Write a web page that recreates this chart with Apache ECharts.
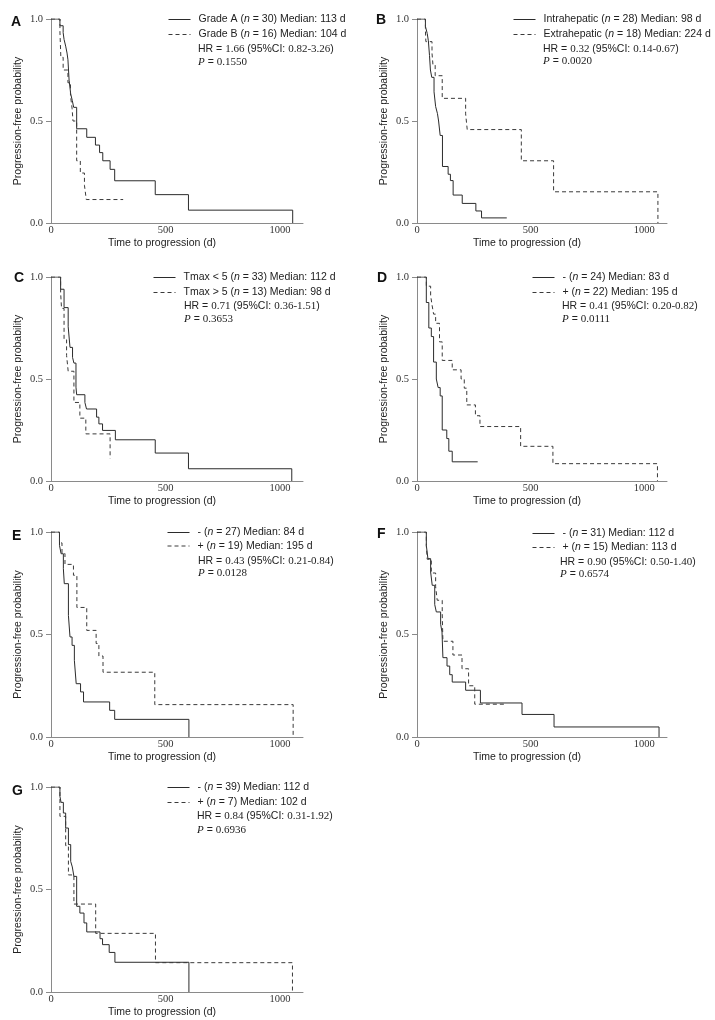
<!DOCTYPE html>
<html>
<head>
<meta charset="utf-8">
<script src="https://cdn.jsdelivr.net/npm/echarts@6/dist/echarts.min.js"></script>
<style>
html,body{margin:0;padding:0;background:#fff;}
#c{width:715px;height:1020px;}
</style>
</head>
<body>
<div id="c"></div>
<script>
// ---------------- DATA (Kaplan-Meier step points: [day, survival]) ----------------
const xTicks = [0, 500, 1000];
const yTicks = [0.0, 0.5, 1.0];
const xLabel = 'Time to progression (d)';
const yLabel = 'Progression-free probability';
const panelLetters = ['A', 'B', 'C', 'D', 'E', 'F', 'G'];

const A_solid = [[0,1],[39,0.967],[53,0.933],[57,0.9],[64,0.867],[70,0.833],[74,0.8],[79,0.7],[86,0.633],[93,0.6],[99,0.567],[112,0.462],[156,0.42],[194,0.382],[212,0.345],[226,0.305],[258,0.263],[278,0.207],[455,0.139],[600,0.063],[1055,0]];
const A_dashed = [[0,1],[39,0.9375],[43,0.8125],[53,0.75],[74,0.6875],[85,0.625],[92,0.5625],[96,0.5],[112,0.305],[128,0.245],[146,0.185],[154,0.115],[315,0.115]];
const A_names = ['Grade A (n = 30) Median: 113 d', 'Grade B (n = 16) Median: 104 d'];
const A_stats = ['1.66', '0.82-3.26', '0.1550'];

const B_solid = [[0,1],[37,0.964],[45,0.929],[50,0.893],[55,0.821],[59,0.75],[65,0.714],[75,0.643],[82,0.571],[90,0.536],[95,0.5],[102,0.429],[112,0.277],[137,0.239],[147,0.208],[159,0.137],[199,0.096],[259,0.059],[284,0.025],[395,0.025]];
const B_dashed = [[0,1],[37,0.944],[39,0.889],[66,0.833],[70,0.778],[80,0.722],[111,0.611],[214,0.535],[221,0.458],[459,0.305],[601,0.153],[1060,0]];
const B_names = ['Intrahepatic (n = 28) Median: 98 d', 'Extrahepatic (n = 18) Median: 224 d'];
const B_stats = ['0.32', '0.14-0.67', '0.0020'];

const C_solid = [[0,1],[42,0.94],[57,0.85],[75,0.756],[83,0.655],[94,0.606],[100,0.578],[109,0.46],[112,0.423],[148,0.385],[155,0.353],[199,0.313],[209,0.28],[225,0.248],[281,0.202],[455,0.137],[600,0.06],[1051,0]];
const C_dashed = [[0,1],[42,0.923],[46,0.846],[57,0.692],[68,0.615],[75,0.538],[100,0.385],[126,0.308],[152,0.231],[258,0.11]];
const C_names = ['Tmax < 5 (n = 33) Median: 112 d', 'Tmax > 5 (n = 13) Median: 98 d'];
const C_stats = ['0.71', '0.36-1.51', '0.3653'];

const D_solid = [[0,1],[41,0.875],[52,0.75],[63,0.708],[73,0.583],[85,0.5],[93,0.458],[102,0.417],[111,0.25],[131,0.208],[140,0.146],[155,0.094],[267,0.094]];
const D_dashed = [[0,1],[41,0.955],[60,0.909],[66,0.864],[73,0.818],[82,0.773],[99,0.682],[111,0.591],[155,0.545],[194,0.5],[208,0.455],[219,0.373],[257,0.32],[277,0.267],[456,0.17],[598,0.085],[1058,0]];
const D_names = ['- (n = 24) Median: 83 d', '+ (n = 22) Median: 195 d'];
const D_stats = ['0.41', '0.20-0.82', '0.0111'];

const E_solid = [[0,1],[37,0.935],[44,0.894],[54,0.821],[58,0.748],[76,0.593],[83,0.488],[92,0.447],[102,0.374],[110,0.26],[129,0.22],[142,0.171],[256,0.13],[278,0.086],[602,0]];
const E_dashed = [[0,1],[37,0.947],[48,0.895],[61,0.842],[98,0.789],[113,0.632],[156,0.52],[197,0.456],[209,0.395],[227,0.316],[453,0.158],[1057,0]];
const E_names = ['- (n = 27) Median: 84 d', '+ (n = 19) Median: 195 d'];
const E_stats = ['0.43', '0.21-0.84', '0.0128'];

const F_solid = [[0,1],[41,0.935],[48,0.87],[60,0.805],[67,0.74],[78,0.646],[85,0.61],[104,0.55],[110,0.512],[114,0.387],[132,0.346],[144,0.304],[155,0.268],[214,0.228],[279,0.166],[462,0.11],[603,0.049],[1065,0]];
const F_dashed = [[0,1],[41,0.933],[45,0.867],[63,0.8],[82,0.733],[89,0.667],[111,0.6],[114,0.467],[158,0.4],[198,0.333],[227,0.25],[254,0.16],[393,0.16]];
const F_names = ['- (n = 31) Median: 112 d', '+ (n = 15) Median: 113 d'];
const F_stats = ['0.90', '0.50-1.40', '0.6574'];

const G_solid = [[0,1],[39,0.954],[44,0.925],[54,0.873],[64,0.8],[76,0.719],[86,0.637],[93,0.61],[100,0.564],[112,0.418],[126,0.385],[144,0.337],[156,0.293],[214,0.26],[225,0.231],[254,0.193],[279,0.145],[602,0]];
const G_dashed = [[0,1],[39,0.857],[64,0.714],[76,0.571],[100,0.429],[195,0.286],[456,0.143],[1054,0]];
const G_names = ['- (n = 39) Median: 112 d', '+ (n = 7) Median: 102 d'];
const G_stats = ['0.84', '0.31-1.92', '0.6936'];

const panelData = [
  [A_solid, A_dashed, A_names, A_stats],
  [B_solid, B_dashed, B_names, B_stats],
  [C_solid, C_dashed, C_names, C_stats],
  [D_solid, D_dashed, D_names, D_stats],
  [E_solid, E_dashed, E_names, E_stats],
  [F_solid, F_dashed, F_names, F_stats],
  [G_solid, G_dashed, G_names, G_stats]
];

// ---------------- LAYOUT ----------------
// grid: left, top, width, height ; legend: iconX, textX, row1Y, rowStep, hrY, pY ; letter: x, y
const layout = [
  {g:[51,19,252,204],  lg:[168,198,19,14,50,62.5],  lt:[11,22]},
  {g:[417,19,250,204], lg:[513,543,19,14,50,62],    lt:[376,20]},
  {g:[51,277,252,204], lg:[153,184,277,14,307,320], lt:[14,278]},
  {g:[417,277,250,204],lg:[532,562,277,14,307,320], lt:[377,278]},
  {g:[51,532,252,205], lg:[167,198,532,12.5,562,574], lt:[12,536]},
  {g:[417,532,250,205],lg:[532,560,533,13,563,575], lt:[377,534]},
  {g:[51,787,252,205], lg:[167,197,787,14,817,831], lt:[12,791]}
];

const SANS = '"Liberation Sans", Arial, sans-serif';
const SERIF = '"Liberation Serif", "Times New Roman", serif';
const LINE = '#2b2b2b';
const AXIS = '#8a8a8a';

const grids = [], xAxes = [], yAxes = [], series = [], legends = [], graphics = [];

panelData.forEach((pd, i) => {
  const L = layout[i];
  grids.push({left: L.g[0], top: L.g[1], width: L.g[2], height: L.g[3], containLabel: false});
  xAxes.push({
    type: 'value', gridIndex: i, min: xTicks[0], max: 1100, interval: xTicks[1] - xTicks[0],
    axisLine: {lineStyle: {color: AXIS, width: 1}},
    axisTick: {show: false},
    splitLine: {show: false},
    axisLabel: {showMaxLabel: false, margin: 2, color: '#333', fontFamily: SERIF, fontSize: 10.5,
      formatter: v => xTicks.indexOf(v) >= 0 ? String(v) : ''},
    name: xLabel, nameLocation: 'middle', nameGap: 15,
    nameTextStyle: {fontFamily: SANS, fontSize: 10.5, color: '#222', padding: [0, 30, 0, 0]}
  });
  yAxes.push({
    type: 'value', gridIndex: i, min: yTicks[0], max: yTicks[2], interval: yTicks[1] - yTicks[0],
    axisLine: {show: true, lineStyle: {color: AXIS, width: 1}},
    axisTick: {show: true, length: 5, lineStyle: {color: AXIS}},
    splitLine: {show: false},
    axisLabel: {margin: 8, color: '#333', fontFamily: SERIF, fontSize: 10.5, formatter: v => v.toFixed(1)},
    name: yLabel, nameLocation: 'middle', nameGap: 27,
    nameTextStyle: {fontFamily: SANS, fontSize: 10.5, color: '#222'}
  });
  series.push({
    type: 'line', name: pd[2][0], xAxisIndex: i, yAxisIndex: i, data: pd[0], step: 'end',
    symbol: 'none', lineStyle: {color: LINE, width: 1, type: 'solid'}, itemStyle: {color: LINE},
    silent: true, animation: false
  });
  series.push({
    type: 'line', name: pd[2][1], xAxisIndex: i, yAxisIndex: i, data: pd[1], step: 'end',
    symbol: 'none', lineStyle: {color: '#3a3a3a', width: 1, type: [4, 3]}, itemStyle: {color: '#3a3a3a'},
    silent: true, animation: false
  });
  const lg = L.lg;
  legends.push({
    data: pd[2], orient: 'vertical', left: lg[0], top: lg[2] - 5, padding: 0,
    itemWidth: 22, itemHeight: 10, itemGap: lg[3] - 10, selectedMode: false,
    itemStyle: {color: 'rgba(0,0,0,0)', borderColor: 'rgba(0,0,0,0)', borderWidth: 0, opacity: 0},
    lineStyle: {width: 1},
    textStyle: {fontFamily: SANS, fontSize: 10.5, color: '#222', lineHeight: 10, padding: [0, 0, 0, 3],
      rich: {i: {fontStyle: 'italic', fontFamily: SANS, fontSize: 10.5, color: '#222'}}},
    formatter: name => name.replace('(n =', '({i|n} =')
  });
  const st = pd[3];
  const rich = {
    s: {fontFamily: SERIF, fontSize: 11, fill: '#222'},
    i: {fontFamily: SERIF, fontStyle: 'italic', fontSize: 11, fill: '#222'}
  };
  graphics.push({
    type: 'text', left: lg[1], top: lg[4] - 6, silent: true,
    style: {text: 'HR = {s|' + st[0] + '} (95%CI: {s|' + st[1] + '})', rich: rich,
      font: '10.5px ' + SANS, fill: '#222'}
  });
  graphics.push({
    type: 'text', left: lg[1], top: lg[5] - 6, silent: true,
    style: {text: '{i|P} = {s|' + st[2] + '}', rich: rich, font: '10.5px ' + SANS, fill: '#222'}
  });
  graphics.push({
    type: 'text', left: L.lt[0], top: L.lt[1] - 7, silent: true,
    style: {text: panelLetters[i], font: 'bold 14px ' + SANS, fill: '#111'}
  });
});

const chart = echarts.init(document.getElementById('c'), null, {renderer: 'canvas'});
chart.setOption({
  backgroundColor: '#fff',
  animation: false,
  grid: grids, xAxis: xAxes, yAxis: yAxes, series: series, legend: legends,
  graphic: graphics
});
</script>
</body>
</html>
